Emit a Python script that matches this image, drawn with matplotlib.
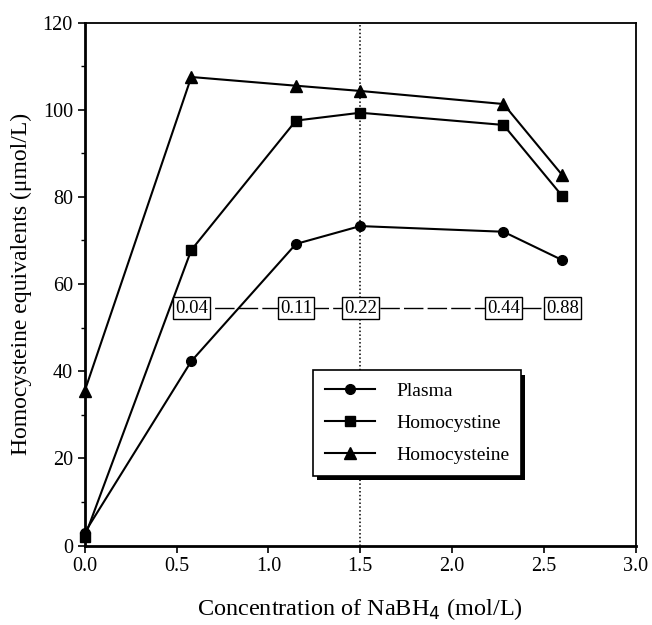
import matplotlib
matplotlib.use("Agg")
import matplotlib.pyplot as plt
from matplotlib.lines import Line2D
import matplotlib.patheffects as pe

plt.rcParams['font.family'] = ['Liberation Serif', 'DejaVu Serif']

# NaBH4 concentration (mol/L)
conc = [0.0, 0.58, 1.15, 1.5, 2.28, 2.6]
plasma = [3.0, 42.3, 69.2, 73.3, 72.0, 65.5]
homocystine = [2.0, 67.8, 97.5, 99.3, 96.5, 80.2]
homocysteine = [35.5, 107.5, 105.5, 104.3, 101.3, 85.0]

# numbers shown in the boxes along the dashed line
box_x = [0.58, 1.15, 1.5, 2.28, 2.6]
box_labels = ["0.04", "0.11", "0.22", "0.44", "0.88"]
box_y = 54.5

fig = plt.figure(figsize=(6.52, 6.25), dpi=100)
ax = fig.add_axes([0.130, 0.127, 0.845, 0.837])

ax.axvline(1.5, color='black', linestyle=(0, (1, 1.5)), linewidth=1.1, zorder=1)

ax.plot(box_x, [box_y] * len(box_x), color='black', linewidth=1.0,
        linestyle=(0, (14, 3)), zorder=1)
for x, lab in zip(box_x, box_labels):
    ax.text(x, box_y, lab, ha='center', va='center', fontsize=13.5, zorder=3,
            bbox=dict(boxstyle='square,pad=0.12', facecolor='white',
                      edgecolor='black', linewidth=1.0))

ax.plot(conc, plasma, color='black', linewidth=1.5, marker='o', markersize=7,
        zorder=2, clip_on=False)
ax.plot(conc, homocystine, color='black', linewidth=1.5, marker='s', markersize=7,
        zorder=2, clip_on=False)
ax.plot(conc, homocysteine, color='black', linewidth=1.5, marker='^', markersize=9,
        zorder=2, clip_on=False)

ax.set_xlim(0, 3.0)
ax.set_ylim(0, 120)
ax.set_xticks([0.0, 0.5, 1.0, 1.5, 2.0, 2.5, 3.0])
ax.set_xticklabels(["0.0", "0.5", "1.0", "1.5", "2.0", "2.5", "3.0"])
ax.set_yticks([0, 20, 40, 60, 80, 100, 120])
ax.set_yticks(range(10, 120, 20), minor=True)
ax.tick_params(axis='both', which='major', direction='out', length=5, width=1.2,
               labelsize=14.5, colors='black')
ax.tick_params(axis='y', which='minor', direction='out', length=3, width=1.0)

for side in ['left', 'bottom']:
    ax.spines[side].set_linewidth(2.0)
for side in ['top', 'right']:
    ax.spines[side].set_linewidth(1.3)

ax.set_xlabel("Concentration of NaBH$_4$ (mol/L)", fontsize=17.5, labelpad=14)
ax.set_ylabel("Homocysteine equivalents (\u03bcmol/L)", fontsize=17, labelpad=8)

handles = [
    Line2D([], [], color='black', linewidth=1.5, marker='o', markersize=7),
    Line2D([], [], color='black', linewidth=1.5, marker='s', markersize=7),
    Line2D([], [], color='black', linewidth=1.5, marker='^', markersize=9),
]
leg = ax.legend(handles, ["Plasma", "Homocystine", "Homocysteine"],
                loc='upper left', bbox_to_anchor=(0.414, 0.335),
                borderaxespad=0.0,
                fontsize=14, frameon=True, fancybox=False, shadow=False,
                framealpha=1.0, handlelength=2.6, handletextpad=1.1,
                labelspacing=0.75, borderpad=0.6)
frame = leg.get_frame()
frame.set_facecolor('white')
frame.set_edgecolor('black')
frame.set_linewidth(1.2)
frame.set_path_effects([pe.SimplePatchShadow(offset=(3, -3), shadow_rgbFace='black', alpha=1.0),
                        pe.Normal()])

fig.savefig("out.png", dpi=100)
